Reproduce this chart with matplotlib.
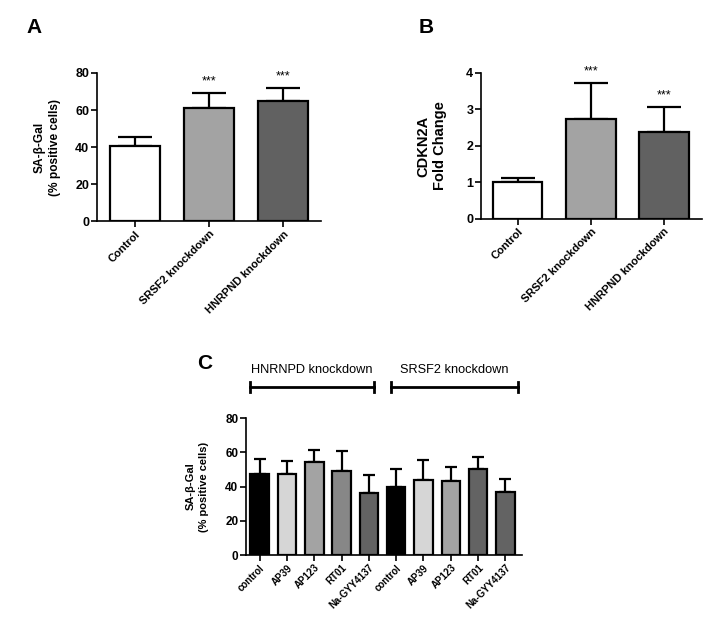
import numpy as np
import matplotlib
matplotlib.use('Agg')
import matplotlib.pyplot as plt
import matplotlib.transforms as mtransforms

plt.rcParams['font.family'] = ['Liberation Sans', 'DejaVu Sans']

# panel A
groups_ab = ['Control', 'SRSF2 knockdown', 'HNRPND knockdown']
sagal_a = [40.5, 61.0, 65.0]
sagal_a_err = [5.0, 8.0, 7.0]
# panel B
cdkn2a = [1.0, 2.73, 2.38]
cdkn2a_err = [0.13, 1.0, 0.70]
colors_ab = ['#ffffff', '#a3a3a3', '#616161']
stars_ab = ['', '***', '***']

# panel C
treat = ['control', 'AP39', 'AP123', 'RT01', 'Na-GYY4137',
         'control', 'AP39', 'AP123', 'RT01', 'Na-GYY4137']
sagal_c = [47.5, 47.5, 54.5, 49.0, 36.5, 39.5, 44.0, 43.0, 50.0, 37.0]
sagal_c_err = [8.5, 7.5, 7.0, 11.5, 10.0, 10.5, 11.5, 8.5, 7.5, 7.5]
colors_c = ['#000000', '#d6d6d6', '#a3a3a3', '#878787', '#636363',
            '#000000', '#d6d6d6', '#a3a3a3', '#636363', '#636363']
bracket_names = ['HNRNPD knockdown', 'SRSF2 knockdown']
bracket_span = [(-0.35, 4.2), (4.8, 9.45)]

fig = plt.figure(figsize=(7.2, 6.32), dpi=100)


def style(ax, fs):
    for s in ['top', 'right']:
        ax.spines[s].set_visible(False)
    for s in ['left', 'bottom']:
        ax.spines[s].set_linewidth(1.2)
    ax.tick_params(direction='out', length=4, width=1.2, pad=1.5)
    ax.tick_params(axis='y', labelsize=fs)
    for lab in ax.get_yticklabels():
        lab.set_fontweight('bold')


def bars(ax, vals, errs, cols, w, cap):
    x = np.arange(len(vals))
    ax.bar(x, vals, width=w, color=cols, edgecolor='black', linewidth=1.6, zorder=2)
    ax.errorbar(x, vals, yerr=[np.zeros(len(errs)), errs], fmt='none',
                ecolor='black', elinewidth=1.6, capsize=cap, capthick=1.6, zorder=1)
    ax.set_xticks(x)
    return x


# A
axA = fig.add_axes([0.1347, 0.650, 0.311, 0.2345])
x = bars(axA, sagal_a, sagal_a_err, colors_ab, 0.68, 12)
axA.set_xticklabels(groups_ab, rotation=45, ha='right', rotation_mode='anchor',
                    fontsize=8, fontweight='bold')
axA.set_xlim(-0.51, 2.51)
axA.set_ylim(0, 80)
axA.set_yticks([0, 20, 40, 60, 80])
style(axA, 9)
axA.set_ylabel('SA-β-Gal\n(% positive cells)', fontsize=8.6, fontweight='bold',
               labelpad=10, linespacing=1.45)
for i in range(3):
    axA.annotate(stars_ab[i], (x[i], sagal_a[i] + sagal_a_err[i]), xytext=(0, 4),
                 textcoords='offset points', ha='center', va='bottom', fontsize=9)

# B
axB = fig.add_axes([0.668, 0.6535, 0.307, 0.231])
x = bars(axB, cdkn2a, cdkn2a_err, colors_ab, 0.68, 12)
axB.set_xticklabels(groups_ab, rotation=45, ha='right', rotation_mode='anchor',
                    fontsize=8, fontweight='bold')
axB.set_xlim(-0.5, 2.52)
axB.set_ylim(0, 4)
axB.set_yticks([0, 1, 2, 3, 4])
style(axB, 9)
axB.set_ylabel('CDKN2A\nFold Change', fontsize=10.5, fontweight='bold', labelpad=14)
for i in range(3):
    axB.annotate(stars_ab[i], (x[i], cdkn2a[i] + cdkn2a_err[i]), xytext=(0, 4),
                 textcoords='offset points', ha='center', va='bottom', fontsize=9)

# C
axC = fig.add_axes([0.3417, 0.1218, 0.383, 0.2168])
x = bars(axC, sagal_c, sagal_c_err, colors_c, 0.68, 4)
axC.set_xticklabels(treat, rotation=45, ha='right', rotation_mode='anchor',
                    fontsize=7, fontweight='bold')
axC.set_xlim(-0.5, 9.6)
axC.set_ylim(0, 80)
axC.set_yticks([0, 20, 40, 60, 80])
style(axC, 8.5)
axC.set_ylabel('SA-β-Gal\n(% positive cells)', fontsize=8, fontweight='bold',
               labelpad=12, linespacing=1.35)

trans = mtransforms.blended_transform_factory(axC.transData, axC.transData)
for name, (x0, x1) in zip(bracket_names, bracket_span):
    axC.plot([x0, x1], [98, 98], color='black', lw=2, clip_on=False, transform=trans)
    for xe in (x0, x1):
        axC.plot([xe, xe], [95, 101], color='black', lw=2, clip_on=False, transform=trans)
    axC.text((x0 + x1) / 2, 108, name, ha='center', va='center', fontsize=9.2,
             clip_on=False)

fig.text(26 / 720, 1 - 33 / 632, 'A', fontsize=15, fontweight='bold', va='baseline')
fig.text(419 / 720, 1 - 33 / 632, 'B', fontsize=15, fontweight='bold', va='baseline')
fig.text(197 / 720, 1 - 369 / 632, 'C', fontsize=15, fontweight='bold', va='baseline')

fig.savefig('out.png', dpi=100)
